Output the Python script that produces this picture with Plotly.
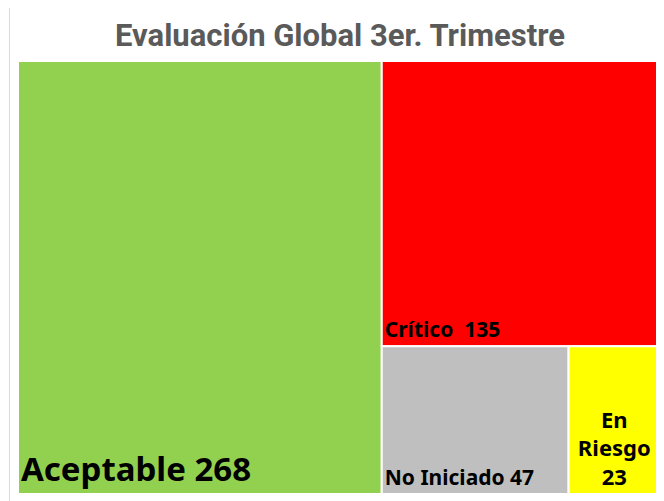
import plotly.graph_objects as go

categories = ["Aceptable", "Crítico", "No Iniciado", "En Riesgo"]
values = [268, 135, 47, 23]
colors = ["#92D050", "#FF0000", "#BFBFBF", "#FFFF00"]
display_names = ["Aceptable", "Crítico ", "No Iniciado", "En<br>Riesgo<br>"]
font_sizes = [33, 21, 21, 22]

parents = [""] * len(categories)

main_text = [f"<b>{n} {v}</b>" for n, v in zip(display_names, values)]
main_text[3] = " "
center_text = [" "] * len(categories)
center_text[3] = f"<b>{display_names[3]}{values[3]}</b>"

common = dict(
    labels=categories,
    parents=parents,
    values=values,
    textinfo="text",
    pathbar=dict(visible=False),
    tiling=dict(pad=0),
    hoverinfo="skip",
)
font_family = "Noto Sans, Open Sans, sans-serif"

fig = go.Figure()
fig.add_trace(go.Treemap(
    **common,
    marker=dict(colors=colors, line=dict(color="white", width=2), pad=dict(t=0, l=0, r=0, b=0)),
    text=main_text,
    textposition="bottom left",
    textfont=dict(family=font_family, size=font_sizes, color="black"),
))
fig.add_trace(go.Treemap(
    **common,
    marker=dict(colors=["rgba(0,0,0,0)"] * len(categories),
                line=dict(color="rgba(0,0,0,0)", width=2), pad=dict(t=0, l=0, r=0, b=0)),
    text=center_text,
    textposition="bottom center",
    textfont=dict(family=font_family, size=font_sizes, color="black"),
))

fig.update_layout(
    width=664, height=501, margin=dict(l=10, r=12, t=53, b=15),
    paper_bgcolor="white",
    title=dict(
        text="Evaluación Global 3er. Trimestre",
        x=0.5, xanchor="center", y=1 - 27 / 501, yanchor="middle",
        font=dict(family="Roboto, sans-serif", size=31, color="#5A5A5A", weight="bold"),
    ),
    shapes=[dict(type="rect", xref="paper", yref="paper",
                 x0=-8.5 / 642, x1=1.05, y0=-0.1, y1=489 / 433,
                 line=dict(color="#D9D9D9", width=1), fillcolor="rgba(0,0,0,0)")],
)
fig.write_html("out.html")
